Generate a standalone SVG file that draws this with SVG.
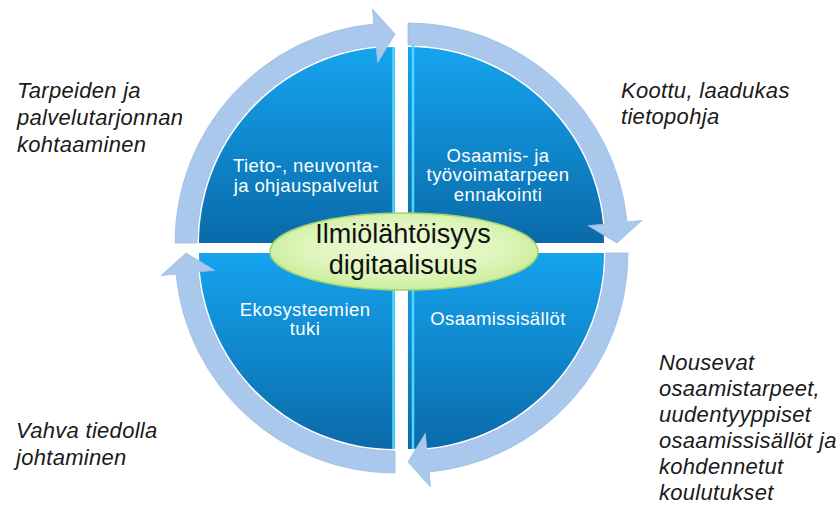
<svg xmlns="http://www.w3.org/2000/svg" width="837" height="510" viewBox="0 0 837 510">
  <style>
    .qt { font-family: "Liberation Sans", Arial, sans-serif; font-size: 18.5px; fill: #ffffff; text-anchor: middle; letter-spacing: 0.4px; }
    .ct { font-family: "Liberation Sans", Arial, sans-serif; font-size: 27px; fill: #111111; text-anchor: middle; }
    .ot { font-family: "Liberation Sans", Arial, sans-serif; font-size: 22px; font-style: italic; fill: #1a1a1a; letter-spacing: 0.3px; }
    .ring { fill: #aac8ec; stroke: #9dbde4; stroke-width: 0.8; }
    .hl { stroke: #4fd8ff; stroke-width: 2.5; }
  </style>
  <defs>
    <linearGradient id="qg" x1="0" y1="0" x2="0" y2="1">
      <stop offset="0" stop-color="#15a4ef"/>
      <stop offset="1" stop-color="#0a6aa9"/>
    </linearGradient>
    <radialGradient id="eg" cx="0.5" cy="0.45" r="0.6">
      <stop offset="0" stop-color="#f0fbdc"/>
      <stop offset="0.6" stop-color="#def5bb"/>
      <stop offset="1" stop-color="#c5ea92"/>
    </radialGradient>
    <path id="arw" d="M-220,0 A220,220 0 0 1 -21.1,-219.0 L-22.5,-233.9 L0,-209 L-17.3,-180.2 L-19.0,-197.1 A198,198 0 0 0 -198,0 Z"/>
  </defs>

  <rect width="837" height="510" fill="#ffffff"/>

  <g id="q-tieto">
    <path d="M395,243 L199,243 A196,196 0 0 1 395,47 Z" fill="url(#qg)"/>
    <line class="hl" x1="393.5" y1="47" x2="393.5" y2="243"/>
    <text class="qt" x="306" y="172">Tieto-, neuvonta-</text>
    <text class="qt" x="306" y="192">ja ohjauspalvelut</text>
  </g>
  <g id="q-osaamis">
    <path d="M408,243 L408,47 A196,196 0 0 1 604,243 Z" fill="url(#qg)"/>
    <line class="hl" x1="413" y1="45" x2="413" y2="243"/>
    <text class="qt" x="498" y="162">Osaamis- ja</text>
    <text class="qt" x="498" y="181">työvoimatarpeen</text>
    <text class="qt" x="498" y="201">ennakointi</text>
  </g>
  <g id="q-eko">
    <path d="M395,253 L395,449 A196,196 0 0 1 199,253 Z" fill="url(#qg)"/>
    <line class="hl" x1="393.5" y1="253" x2="393.5" y2="449"/>
    <text class="qt" x="305" y="316">Ekosysteemien</text>
    <text class="qt" x="305" y="335">tuki</text>
  </g>
  <g id="q-sisallot">
    <path d="M408,253 L604,253 A196,196 0 0 1 408,449 Z" fill="url(#qg)"/>
    <line class="hl" x1="413" y1="253" x2="413" y2="449"/>
    <text class="qt" x="498" y="325">Osaamissisällöt</text>
  </g>

  <g id="connectors">
    <use href="#arw" class="ring" transform="translate(395,243)"/>
    <use href="#arw" class="ring" transform="translate(408,243) rotate(90)"/>
    <use href="#arw" class="ring" transform="translate(408,253) rotate(180)"/>
    <use href="#arw" class="ring" transform="translate(395,253) rotate(270)"/>
  </g>

  <g id="center">
    <ellipse cx="404" cy="251.5" rx="134" ry="38.5" fill="url(#eg)" stroke="#a5d36c" stroke-width="1.5"/>
    <text class="ct" x="403" y="243">Ilmiölähtöisyys</text>
    <text class="ct" x="403" y="274">digitaalisuus</text>
  </g>

  <g id="label-tarpeiden">
    <text class="ot" x="17" y="98">Tarpeiden ja</text>
    <text class="ot" x="17" y="125">palvelutarjonnan</text>
    <text class="ot" x="17" y="152">kohtaaminen</text>
  </g>
  <g id="label-koottu">
    <text class="ot" x="621" y="98">Koottu, laadukas</text>
    <text class="ot" x="621" y="124">tietopohja</text>
  </g>
  <g id="label-vahva">
    <text class="ot" x="16" y="438">Vahva tiedolla</text>
    <text class="ot" x="16" y="465">johtaminen</text>
  </g>
  <g id="label-nousevat">
    <text class="ot" x="659" y="370">Nousevat</text>
    <text class="ot" x="659" y="396">osaamistarpeet,</text>
    <text class="ot" x="659" y="422">uudentyyppiset</text>
    <text class="ot" x="659" y="448">osaamissisällöt ja</text>
    <text class="ot" x="659" y="474">kohdennetut</text>
    <text class="ot" x="659" y="500">koulutukset</text>
  </g>
</svg>
